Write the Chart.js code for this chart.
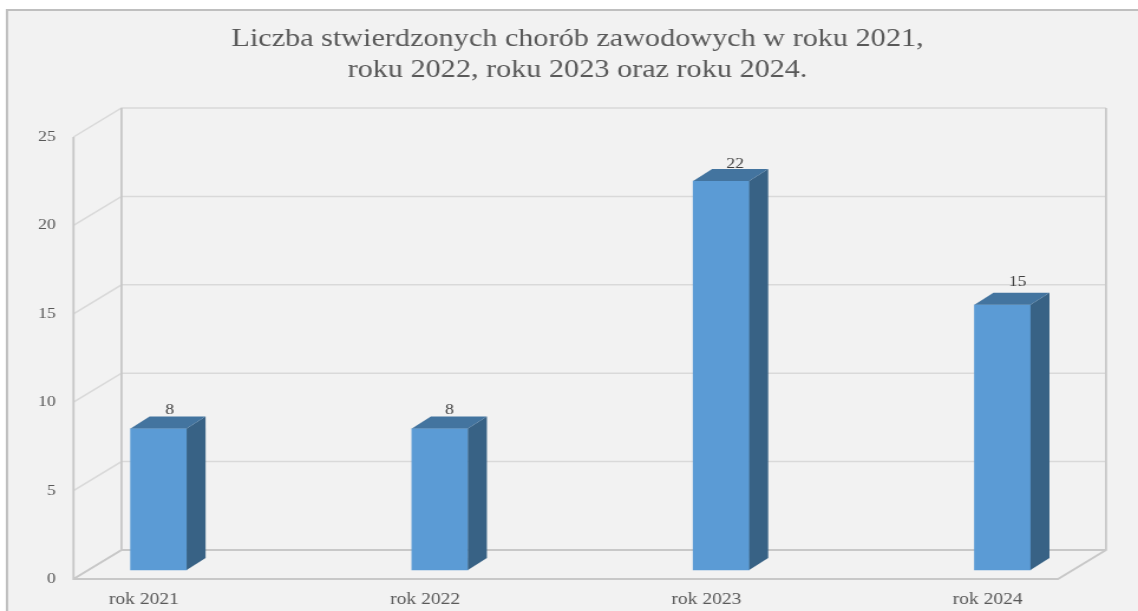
<!DOCTYPE html>
<html lang="pl">
<head>
<meta charset="utf-8">
<title>Choroby zawodowe</title>
<script src="https://cdn.jsdelivr.net/npm/chart.js@4"></script>
<style>
html,body{margin:0;padding:0;background:#fff;overflow:hidden;width:1138px;height:611px}
#c{position:absolute;left:0;top:0;transform-origin:0 0;transform:scaleX(1.1805)}
</style>
</head>
<body>
<canvas id="c" width="964" height="611"></canvas>
<script>
const categories = ['rok 2021', 'rok 2022', 'rok 2023', 'rok 2024'];
const values = [8, 8, 22, 15];
const yTicks = [0, 5, 10, 15, 20, 25];
const titleLines = ['Liczba stwierdzonych chorób zawodowych w roku 2021,', 'roku 2022, roku 2023 oraz roku 2024.'];

const sx = 1138 / 964;
const depthX = 48 / sx, depthY = 29;
const barDX = 19 / sx, barDY = 12;
const labelNudgeX = [11 / sx, 9.5 / sx, 14 / sx, 15 / sx];
const labelNudgeY = [18.5, 18.5, 17, 23];
const textColor = '#595959';
const fontFamily = '"Liberation Serif", serif';

const box3d = {
  id: 'box3d',
  beforeDraw(chart) {
    const ctx = chart.ctx;
    ctx.save();
    ctx.fillStyle = '#ffffff';
    ctx.fillRect(0, 0, chart.width, chart.height);
    ctx.fillStyle = '#f2f2f2';
    ctx.fillRect(7 / sx, 10, chart.width, chart.height);
    ctx.strokeStyle = '#bfbfbf';
    ctx.lineWidth = 2;
    ctx.beginPath();
    ctx.moveTo(7 / sx, chart.height);
    ctx.lineTo(7 / sx, 10);
    ctx.lineTo(chart.width, 10);
    ctx.stroke();
    ctx.restore();
  },
  beforeDatasetsDraw(chart) {
    const ctx = chart.ctx, xs = chart.scales.x, ys = chart.scales.y;
    const L = xs.left, R = xs.right;
    ctx.save();
    ctx.lineWidth = 1.5;
    ctx.strokeStyle = '#d9d9d9';
    yTicks.forEach(v => {
      const y = ys.getPixelForValue(v);
      ctx.beginPath();
      ctx.moveTo(L, y);
      ctx.lineTo(L + depthX, y - depthY);
      ctx.lineTo(R + depthX, y - depthY);
      ctx.stroke();
    });
    const y0 = ys.getPixelForValue(yTicks[0]);
    const yMax = ys.getPixelForValue(yTicks[yTicks.length - 1]);
    ctx.strokeStyle = '#c8c8c8';
    ctx.lineWidth = 1.8;
    ctx.beginPath();
    ctx.moveTo(L, yMax); ctx.lineTo(L, y0); ctx.lineTo(R, y0); ctx.lineTo(R + depthX, y0 - depthY);
    ctx.lineTo(R + depthX, yMax - depthY);
    ctx.moveTo(L + depthX, yMax - depthY); ctx.lineTo(L + depthX, y0 - depthY); ctx.lineTo(R + depthX, y0 - depthY);
    ctx.moveTo(L, y0); ctx.lineTo(L + depthX, y0 - depthY);
    ctx.stroke();
    ctx.restore();
  },
  afterDatasetsDraw(chart) {
    const ctx = chart.ctx;
    ctx.save();
    chart.getDatasetMeta(0).data.forEach((bar, i) => {
      const r = bar.x + bar.width / 2, l = bar.x - bar.width / 2;
      ctx.fillStyle = '#386285';
      ctx.beginPath();
      ctx.moveTo(r, bar.y); ctx.lineTo(r + barDX, bar.y - barDY);
      ctx.lineTo(r + barDX, bar.base - barDY); ctx.lineTo(r, bar.base);
      ctx.closePath(); ctx.fill();
      ctx.fillStyle = '#43749f';
      ctx.beginPath();
      ctx.moveTo(l, bar.y); ctx.lineTo(l + barDX, bar.y - barDY);
      ctx.lineTo(r + barDX, bar.y - barDY); ctx.lineTo(r, bar.y);
      ctx.closePath(); ctx.fill();
      ctx.fillStyle = '#404040';
      ctx.font = '15px ' + fontFamily;
      ctx.textAlign = 'center';
      ctx.textBaseline = 'middle';
      ctx.fillText(String(values[i]), bar.x + labelNudgeX[i], bar.y - labelNudgeY[i]);
    });
    ctx.restore();
  }
};

new Chart(document.getElementById('c'), {
  type: 'bar',
  data: {
    datasets: [{
      data: categories.map((c, i) => ({ x: i, y: values[i] })),
      backgroundColor: '#5b9bd5',
      barThickness: 56 / sx,
      xAxisID: 'x2',
      yAxisID: 'y2'
    }]
  },
  plugins: [box3d],
  options: {
    responsive: false,
    animation: false,
    devicePixelRatio: 1,
    layout: { padding: { left: 17 / sx, right: 0, top: 0, bottom: 0 } },
    plugins: {
      legend: { display: false },
      tooltip: { enabled: false },
      title: {
        display: true,
        text: titleLines,
        color: textColor,
        font: { family: fontFamily, size: 25.6, weight: 'normal', lineHeight: 31 / 25.6 },
        padding: { top: 23.5, bottom: 51.5 }
      }
    },
    scales: {
      x: {
        type: 'linear', position: 'bottom', min: -0.25, max: 3.25, offset: false,
        grid: { display: false, drawTicks: false, offset: false }, border: { display: false },
        afterBuildTicks(s) { s.ticks = categories.map((c, i) => ({ value: i })); },
        afterFit(s) { s.height = 32; },
        ticks: {
          callback: v => categories[v],
          autoSkip: false, maxRotation: 0, minRotation: 0, padding: 11,
          color: textColor, font: { family: fontFamily, size: 16.5 }
        }
      },
      y: {
        type: 'linear', position: 'left', min: 0, max: 25,
        grid: { display: false, drawTicks: false }, border: { display: false },
        afterFit(s) { s.width = 56.5 / sx; },
        ticks: {
          stepSize: 5, padding: 15,
          color: textColor, font: { family: fontFamily, size: 15 }
        }
      },
      x2: {
        type: 'linear', position: 'bottom', display: false, offset: false,
        grid: { offset: false },
        min: -0.25 - 0.0525, max: 3.25 - 0.0525
      },
      y2: {
        type: 'linear', position: 'right', min: -0.51, max: 25 - 0.51,
        grid: { display: false, drawTicks: false }, border: { display: false },
        afterFit(s) { s.width = 80 / sx; },
        ticks: { display: false }
      }
    }
  }
});
</script>
</body>
</html>
